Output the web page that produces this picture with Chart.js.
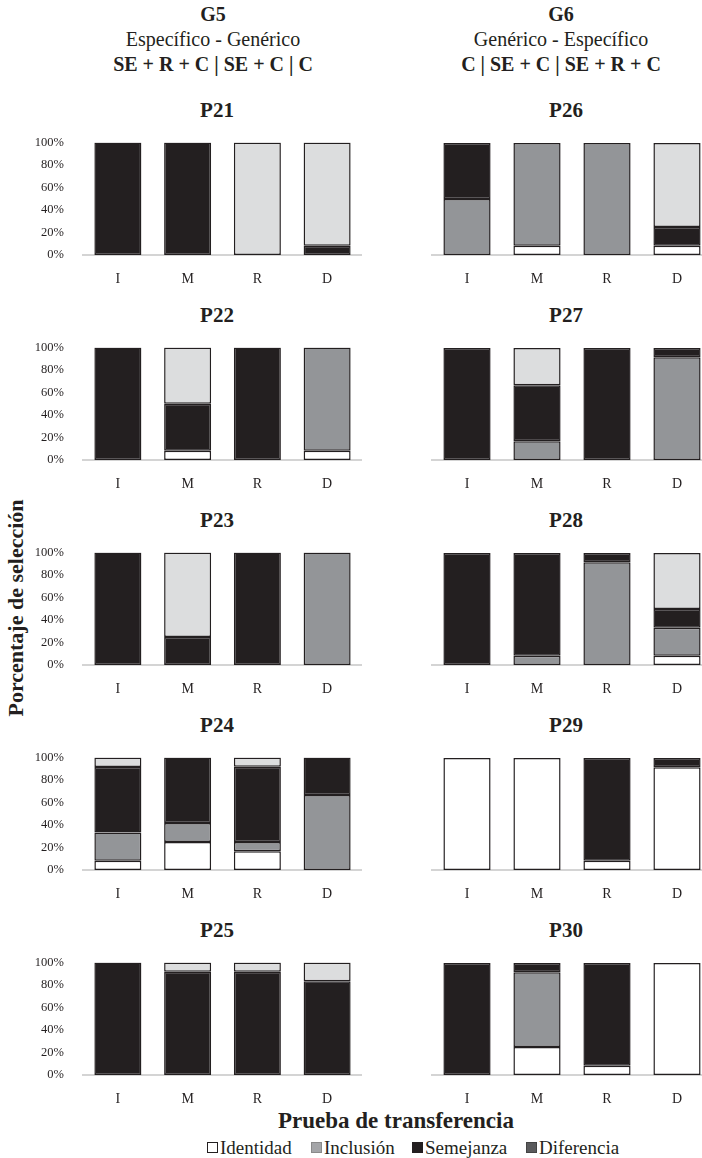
<!DOCTYPE html>
<html lang="es">
<head>
<meta charset="utf-8">
<title>Prueba de transferencia</title>
<script src="https://cdn.jsdelivr.net/npm/chart.js@4.4.1/dist/chart.umd.min.js"></script>
<style>
    html, body { margin: 0; padding: 0; background: #fff; overflow: hidden; }
    body {
        width: 702px; height: 1158px; position: relative;
        font-family: "Liberation Serif", "Times New Roman", serif; color: #231f20;
    }
    .cabecera { position: absolute; width: 300px; text-align: center; font-size: 20px; line-height: 25px; }
    .titulo-panel { position: absolute; width: 200px; text-align: center; font-size: 21px; font-weight: bold; line-height: 24px; }
    .eje-y { position: absolute; width: 300px; height: 28px; line-height: 28px; left: -134px; top: 594px;
        text-align: center; font-size: 22px; font-weight: bold; transform: rotate(-90deg); }
    .eje-x { position: absolute; width: 300px; left: 246px; top: 1107px; line-height: 28px;
        text-align: center; font-size: 23px; font-weight: bold; }
    .leyenda { position: absolute; top: 1136px; font-size: 19px; line-height: 24px; white-space: nowrap; }
    .leyenda span { display: inline-block; width: 9px; height: 9px; margin-right: 2px; border: 1px solid #231f20; vertical-align: 1px; }
    canvas { position: absolute; }
</style>
</head>
<body>
<div class="cabecera" style="left:63px; top:2px;"><b>G5</b><br>Específico - Genérico<br><b>SE + R + C | SE + C | C</b></div>
<div class="cabecera" style="left:411px; top:2px;"><b>G6</b><br>Genérico - Específico<br><b>C | SE + C | SE + R + C</b></div>
<div class="eje-y">Porcentaje de selección</div>
<div class="eje-x">Prueba de transferencia</div>
<div class="leyenda" style="left:207px;"><span style="background:#ffffff;"></span>Identidad</div>
<div class="leyenda" style="left:311px;"><span style="background:#a4a5a8; border-color:#8a8a8a;"></span>Inclusión</div>
<div class="leyenda" style="left:412px;"><span style="background:#231f20;"></span>Semejanza</div>
<div class="leyenda" style="left:526px;"><span style="background:#5a5a5c; border-color:#444;"></span>Diferencia</div>

<script>
// Categorías y paneles
const categorias = ['I', 'M', 'R', 'D'];
const paneles = ['P21', 'P22', 'P23', 'P24', 'P25', 'P26', 'P27', 'P28', 'P29', 'P30'];

// Porcentajes por panel (orden de paneles), cada fila: I, M, R, D
const identidad = [
    [0, 0, 0, 0],
    [0, 8.3, 0, 8.3],
    [0, 0, 0, 0],
    [8.3, 25, 16.7, 0],
    [0, 0, 0, 0],
    [0, 8.3, 0, 8.3],
    [0, 0, 0, 0],
    [0, 0, 0, 8.3],
    [100, 100, 8.3, 91.7],
    [0, 25, 8.3, 100]
];
const inclusion = [
    [0, 0, 0, 0],
    [0, 0, 0, 91.7],
    [0, 0, 0, 100],
    [25, 16.7, 8.3, 66.7],
    [0, 0, 0, 0],
    [50, 91.7, 100, 0],
    [0, 16.7, 0, 91.7],
    [0, 8.3, 91.7, 25],
    [0, 0, 0, 0],
    [0, 66.7, 0, 0]
];
const semejanza = [
    [100, 100, 0, 8.3],
    [100, 41.7, 100, 0],
    [100, 25, 100, 0],
    [58.3, 58.3, 66.7, 33.3],
    [100, 91.7, 91.7, 83.3],
    [50, 0, 0, 16.7],
    [100, 50, 100, 8.3],
    [100, 91.7, 8.3, 16.7],
    [0, 0, 91.7, 8.3],
    [100, 8.3, 91.7, 0]
];
const diferencia = [
    [0, 0, 100, 91.7],
    [0, 50, 0, 0],
    [0, 75, 0, 0],
    [8.3, 0, 8.3, 0],
    [0, 8.3, 8.3, 16.7],
    [0, 0, 0, 75],
    [0, 33.3, 0, 0],
    [0, 0, 0, 50],
    [0, 0, 0, 0],
    [0, 0, 0, 0]
];
const ticksY = [0, 20, 40, 60, 80, 100];

const series = [
    { label: 'Identidad', datos: identidad, color: '#ffffff' },
    { label: 'Inclusión', datos: inclusion, color: '#939598' },
    { label: 'Semejanza', datos: semejanza, color: '#231f20' },
    { label: 'Diferencia', datos: diferencia, color: '#dcddde' }
];

const fuente = '"Liberation Serif", "Times New Roman", serif';

paneles.forEach((nombre, i) => {
    const col = i < 5 ? 0 : 1;
    const fila = i % 5;

    // Título del panel
    const titulo = document.createElement('div');
    titulo.className = 'titulo-panel';
    titulo.textContent = nombre;
    titulo.style.left = (col === 0 ? 117 : 466) + 'px';
    titulo.style.top = (98 + 205 * fila) + 'px';
    document.body.appendChild(titulo);

    // Canvas (la columna izquierda reserva más espacio arriba por las etiquetas del eje y)
    const canvas = document.createElement('canvas');
    canvas.width = col === 0 ? 362 : 350;
    canvas.height = col === 0 ? 161 : 152;
    canvas.style.left = (col === 0 ? 0 : 362) + 'px';
    canvas.style.top = ((col === 0 ? 124 : 133) + 205 * fila) + 'px';
    document.body.appendChild(canvas);

    new Chart(canvas.getContext('2d'), {
        type: 'bar',
        data: {
            labels: categorias,
            datasets: series.map(s => ({
                label: s.label,
                data: s.datos[i].map(v => v === 0 ? null : v),
                backgroundColor: s.color,
                borderColor: '#231f20',
                borderWidth: 1.5,
                borderSkipped: false,
                barPercentage: 0.674,
                categoryPercentage: 1
            }))
        },
        options: {
            responsive: false,
            animation: false,
            layout: { padding: { top: col === 0 ? 1 : 10, right: 0, bottom: 0, left: 0 } },
            plugins: {
                legend: { display: false },
                tooltip: { enabled: false }
            },
            scales: {
                x: {
                    stacked: true,
                    z: 1,
                    grid: { display: false },
                    border: { display: true, color: '#d4d4d4', width: 2 },
                    ticks: { color: '#231f20', font: { family: fuente, size: 14 }, padding: 8 },
                    afterFit: scale => { scale.height = 30; }
                },
                y: {
                    stacked: true,
                    min: 0,
                    max: 100,
                    grid: { display: false },
                    border: { display: false },
                    afterBuildTicks: scale => { scale.ticks = ticksY.map(v => ({ value: v })); },
                    ticks: {
                        display: col === 0,
                        color: '#231f20',
                        font: { family: fuente, size: 12.5 },
                        padding: 11,
                        callback: v => v + '%'
                    },
                    afterFit: scale => { scale.width = col === 0 ? 83 : 70; }
                }
            }
        }
    });
});
</script>
</body>
</html>
